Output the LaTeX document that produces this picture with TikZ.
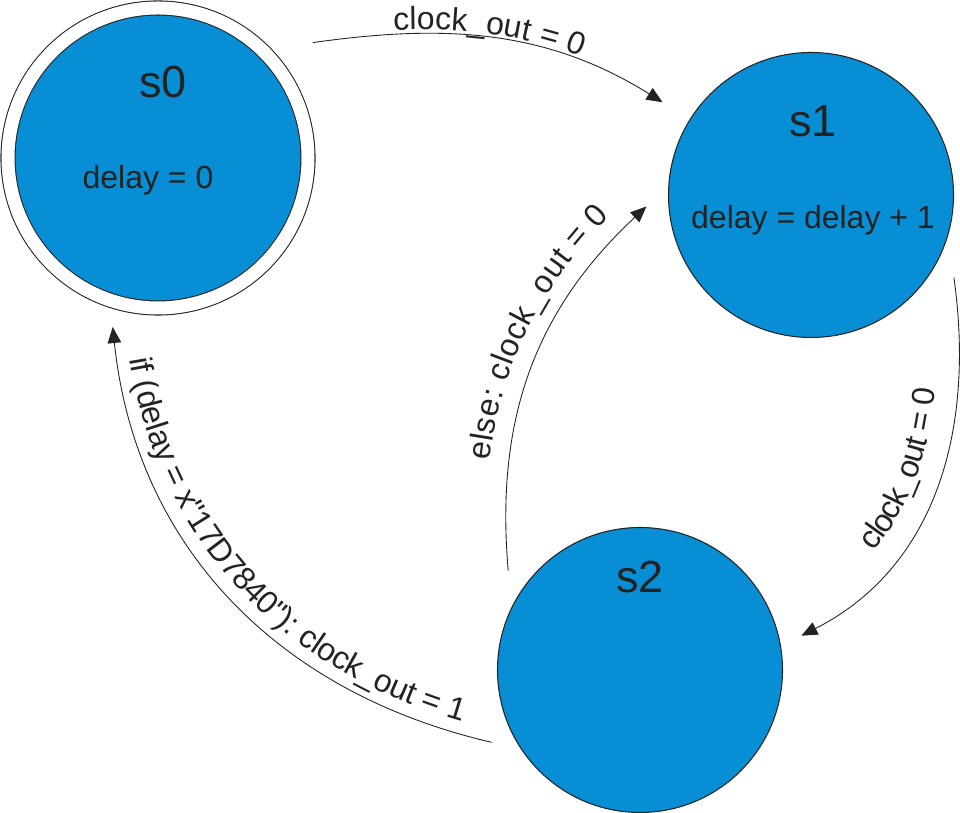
\documentclass[tikz,border=0pt]{standalone}
\usepackage{fontspec}
\setmainfont{Liberation Sans}
\newfontfamily\plainfamily{Liberation Sans}
\usetikzlibrary{arrows.meta, positioning, decorations.text}
\definecolor{statefill}{RGB}{8,142,212}
\definecolor{inkgray}{RGB}{35,35,35}
\newcommand{\titlefont}{\fontsize{25.6}{30}\selectfont}
\newcommand{\edgefont}{\plainfamily\fontsize{18.2}{22}\selectfont}

\begin{document}
\begin{tikzpicture}[
  state/.style={circle, draw=inkgray, line width=0.6pt, fill=statefill,
                minimum size=5.7cm, inner sep=0pt, outer sep=0.45cm},
  initial/.style={state, double=white, double distance=0.26cm,
                  minimum size=6.0cm, outer sep=0.5cm},
  title/.style={font=\titlefont, text=inkgray},
  action/.style={font=\edgefont, text=inkgray},
  trans/.style={-{Triangle[length=0.32cm, width=0.27cm]}, draw=inkgray, line width=0.5pt}]
  \useasboundingbox (0,0) rectangle (19.2,16.26);

  % states
  \node[initial] (s0) at (3.16,13.10) {};
  \node[state]   (s1) at (16.22,12.36) {};
  \node[state]   (s2) at (12.80,2.86) {};

  \node[title,  xshift=0.1cm,  yshift=1.52cm]  (s0name) at (s0) {s0};
  \node[action, xshift=-0.2cm, yshift=-0.44cm] (s0act)  at (s0) {delay = 0};
  \node[title,  xshift=0.04cm, yshift=1.48cm]  (s1name) at (s1) {s1};
  \node[action, xshift=0.04cm, yshift=-0.5cm]  (s1act)  at (s1) {delay = delay + 1};
  \node[title,  yshift=1.86cm]                 (s2name) at (s2) {s2};

  % transitions
  \draw[trans, shorten <=0.42cm, shorten >=0.2cm,
        postaction={decorate, decoration={text along path, text align=center, raise=0.1cm,
          text={|\edgefont\color{inkgray}|clock{\_}out = 0}}}]
    (s0.40) to[out=8, in=148] (s1.148);
  \draw[trans,
        postaction={decorate, decoration={text along path, text align=center, raise=0.38cm,
          text align/left indent=1.5cm,
          text={|\edgefont\color{inkgray}|else: clock{\_}out = 0}}}]
    (s2.143) to[out=95, in=223] (s1.184);
  \draw[trans,
        postaction={decorate, decoration={text along path, text align=center, raise=0.45cm,
          reverse path,
          text={|\edgefont\color{inkgray}|clock{\_}out = 0}}}]
    (s1.-30) to[out=-82, in=27] (s2.12);
  \draw[trans,
        postaction={decorate, decoration={text along path, text align=center, raise=0.25cm,
          reverse path,
          text={|\edgefont\color{inkgray}|if (delay = x"17D7840"): clock{\_}out = 1}}}]
    (s2.206) to[out=167, in=-84] (s0.255);
\end{tikzpicture}
\end{document}
